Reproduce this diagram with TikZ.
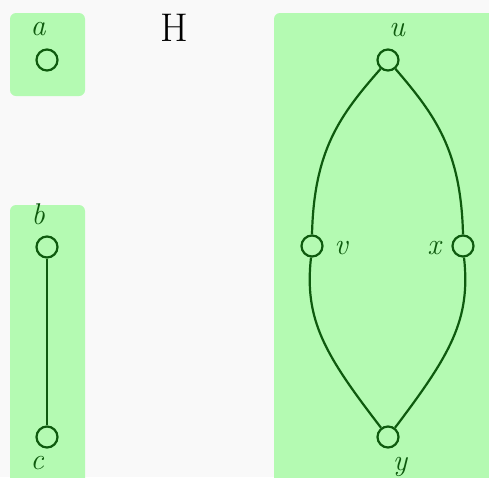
\documentclass[tikz,border=0pt]{standalone}
\usepackage{fontspec}
\begin{document}
\begin{tikzpicture}[x=1pt,y=-1pt,
  grp/.style={fill=grpfill,draw=none,rounded corners=6pt},
  vtx/.style={circle,draw=edgecol,line width=2.2pt,minimum size=21pt,inner sep=0pt,fill=none},
  lbl/.style={text=edgecol,font=\fontsize{30}{34}\selectfont\itshape,inner sep=0pt},
  edg/.style={draw=edgecol,line width=2.2pt}]
\definecolor{grpfill}{HTML}{B4FAB2}
\definecolor{edgecol}{HTML}{0E5A0E}
\definecolor{bgcol}{HTML}{F9F9F9}
\fill[bgcol] (0,0) rectangle (489,477);
\useasboundingbox (0,0) rectangle (489,477);
\path[grp] (10,13) rectangle (85,96);
\path[grp] (10,205) rectangle (85,490);
\path[grp] (274,13) rectangle (500,490);
\node[font=\fontsize{40}{44}\selectfont,inner sep=0pt] (H) at (174,28) {H};
\node[vtx] (a) at (47,60) {};
\node[vtx] (b) at (47,247) {};
\node[vtx] (c) at (47,437) {};
\node[vtx] (u) at (388,60) {};
\node[vtx] (v) at (312,246) {};
\node[vtx] (x) at (463,246) {};
\node[vtx] (y) at (388,437) {};
\node[lbl] (la) at (38,29) {a};
\node[lbl] (lb) at (38,214) {b};
\node[lbl] (lc) at (37,463) {c};
\node[lbl] (lu) at (397,30) {u};
\node[lbl] (lv) at (341,248) {v};
\node[lbl] (lx) at (434,248) {x};
\node[lbl] (ly) at (400,467) {y};
\draw[edg] (b) -- (c);
\draw[edg] (u.-130) .. controls (340,115) and (314,150) .. (v.north);
\draw[edg] (u.-50) .. controls (435,115) and (461,150) .. (x.north);
\draw[edg] (v.-95) .. controls (304,320) and (325,355) .. (y.127);
\draw[edg] (x.-85) .. controls (471,320) and (450,355) .. (y.53);
\end{tikzpicture}
\end{document}
